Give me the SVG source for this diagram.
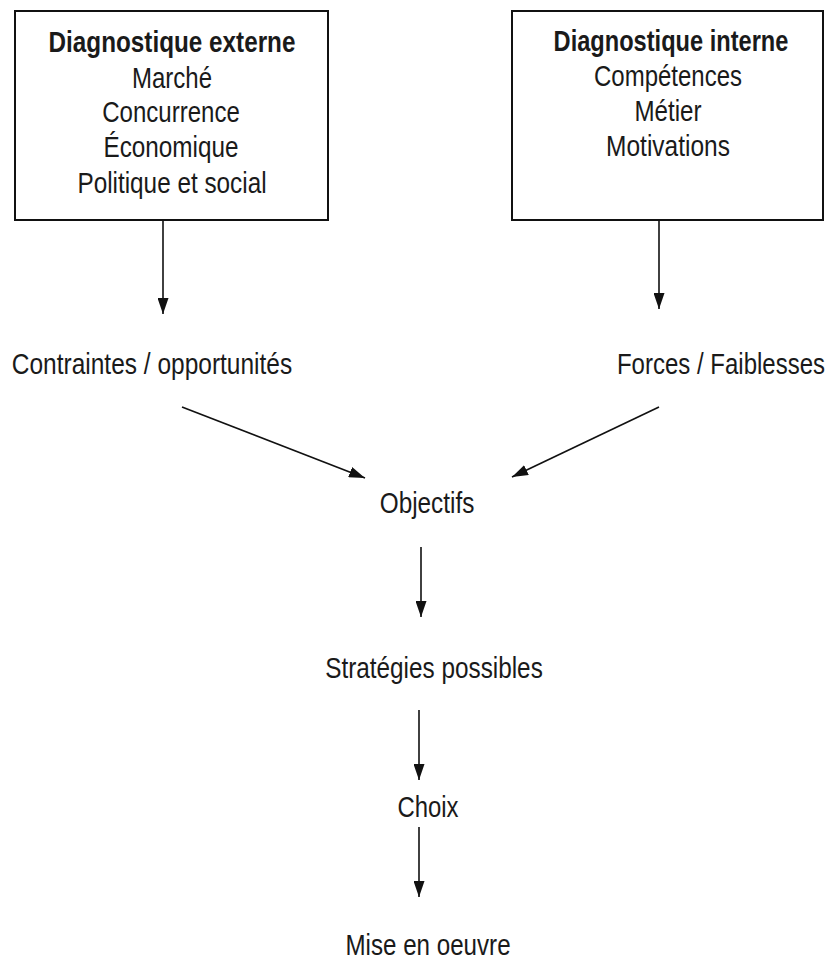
<svg xmlns="http://www.w3.org/2000/svg" width="832" height="963" viewBox="0 0 832 963">
<defs>
<marker id="ah" viewBox="0 0 16 11" refX="16" refY="5.5" markerWidth="16" markerHeight="11" markerUnits="userSpaceOnUse" orient="auto">
<path d="M0,0 L16,5.5 L0,11 Z" fill="#111"/>
</marker>
<style>
text{font-family:"Liberation Sans",Arial,sans-serif;font-size:29px;fill:#1a1a1a;text-anchor:middle}
.b{font-weight:bold}
.box{fill:#fff;stroke:#111;stroke-width:2}
.c{stroke:#111;stroke-width:1.6;fill:none;marker-end:url(#ah)}
</style>
</defs>
<rect width="832" height="963" fill="#fff"/>
<g id="diag-externe">
<rect class="box" x="15" y="11" width="313" height="209"/>
<text class="b" transform="translate(172,52) scale(0.86,1)" textLength="287" lengthAdjust="spacingAndGlyphs">Diagnostique externe</text>
<text transform="translate(172,88) scale(0.86,1)" textLength="93" lengthAdjust="spacingAndGlyphs">Marché</text>
<text transform="translate(171,122) scale(0.86,1)" textLength="160" lengthAdjust="spacingAndGlyphs">Concurrence</text>
<text transform="translate(171,157) scale(0.86,1)" textLength="157" lengthAdjust="spacingAndGlyphs">Économique</text>
<text transform="translate(172,193) scale(0.86,1)" textLength="220" lengthAdjust="spacingAndGlyphs">Politique et social</text>
</g>
<g id="diag-interne">
<rect class="box" x="512" y="11" width="311" height="209"/>
<text class="b" transform="translate(671,51) scale(0.86,1)" textLength="273" lengthAdjust="spacingAndGlyphs">Diagnostique interne</text>
<text transform="translate(668,86) scale(0.86,1)" textLength="172" lengthAdjust="spacingAndGlyphs">Compétences</text>
<text transform="translate(668,121) scale(0.86,1)" textLength="78" lengthAdjust="spacingAndGlyphs">Métier</text>
<text transform="translate(668,156) scale(0.86,1)" textLength="144" lengthAdjust="spacingAndGlyphs">Motivations</text>
</g>
<g id="contraintes">
<text transform="translate(152,374) scale(0.86,1)" textLength="326" lengthAdjust="spacingAndGlyphs">Contraintes / opportunités</text>
</g>
<g id="forces">
<text transform="translate(721,374) scale(0.86,1)" textLength="242" lengthAdjust="spacingAndGlyphs">Forces / Faiblesses</text>
</g>
<g id="objectifs">
<text transform="translate(427,513) scale(0.86,1)" textLength="110" lengthAdjust="spacingAndGlyphs">Objectifs</text>
</g>
<g id="strategies">
<text transform="translate(434,678) scale(0.86,1)" textLength="253" lengthAdjust="spacingAndGlyphs">Stratégies possibles</text>
</g>
<g id="choix">
<text transform="translate(428,817) scale(0.86,1)" textLength="71" lengthAdjust="spacingAndGlyphs">Choix</text>
</g>
<g id="mise">
<text transform="translate(428,955) scale(0.86,1)" textLength="192" lengthAdjust="spacingAndGlyphs">Mise en oeuvre</text>
</g>
<g id="connectors">
<line class="c" x1="163" y1="221" x2="163" y2="314"/>
<line class="c" x1="659" y1="221" x2="659" y2="309"/>
<line class="c" x1="182" y1="407" x2="365" y2="478"/>
<line class="c" x1="659" y1="407" x2="512" y2="477"/>
<line class="c" x1="421" y1="547" x2="421" y2="617"/>
<line class="c" x1="419" y1="710" x2="419" y2="780"/>
<line class="c" x1="419" y1="827" x2="419" y2="897"/>
</g>
</svg>
